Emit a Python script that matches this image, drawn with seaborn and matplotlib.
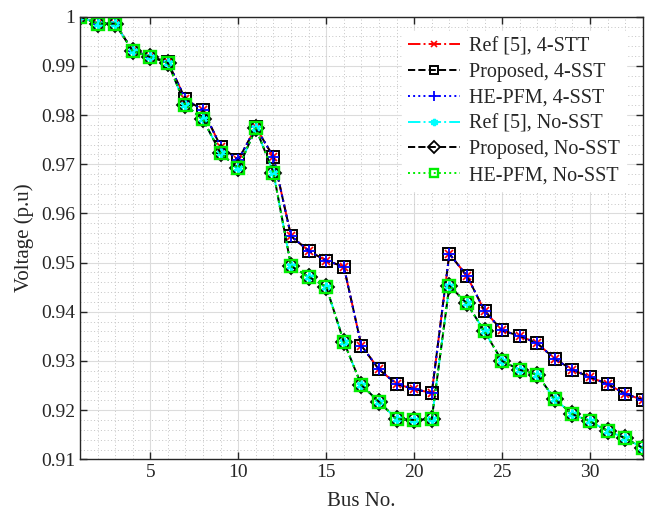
import numpy as np
import pandas as pd
import matplotlib
matplotlib.use("Agg")
import matplotlib.pyplot as plt
from matplotlib.ticker import MultipleLocator, FuncFormatter
import seaborn as sns

# bus numbers and voltage profiles
bus = list(range(1, 34))

v_4sst = [1.0000, 0.9986, 0.9986, 0.9931, 0.9919, 0.9908, 0.9832, 0.9810, 0.9736, 0.9709,
          0.9775, 0.9715, 0.9554, 0.9524, 0.9504, 0.9492, 0.9331, 0.9283, 0.9253, 0.9243,
          0.9235, 0.9518, 0.9473, 0.9402, 0.9362, 0.9351, 0.9336, 0.9304, 0.9282, 0.9267,
          0.9253, 0.9233, 0.9221]

v_nosst = [1.0000, 0.9986, 0.9986, 0.9930, 0.9918, 0.9906, 0.9820, 0.9791, 0.9722, 0.9692,
           0.9773, 0.9683, 0.9493, 0.9471, 0.9451, 0.9339, 0.9251, 0.9217, 0.9182, 0.9180,
           0.9182, 0.9453, 0.9417, 0.9360, 0.9300, 0.9282, 0.9272, 0.9222, 0.9192, 0.9177,
           0.9158, 0.9143, 0.9123]

labels = ["Ref [5], 4-STT", "Proposed, 4-SST", "HE-PFM, 4-SST",
          "Ref [5], No-SST", "Proposed, No-SST", "HE-PFM, No-SST"]

sns.set_style("ticks")
plt.rcParams["font.family"] = ["Liberation Serif", "DejaVu Serif"]

fig = plt.figure(figsize=(6.5, 5.22), dpi=100)
ax = fig.add_axes([0.123, 0.12, 0.866, 0.848])

green = "#00ee00"
styles = [
    dict(color="red", linestyle="-.", marker="x", markersize=5.5,
         markeredgewidth=1.2, markeredgecolor="red"),
    dict(color="black", linestyle="--", marker="s", markersize=8,
         markeredgewidth=1.4, markerfacecolor="none", markeredgecolor="black"),
    dict(color="blue", linestyle=":", marker="+", markersize=9,
         markeredgewidth=1.3, markeredgecolor="blue"),
    dict(color="cyan", linestyle="-.", marker=(6, 2, 0), markersize=7,
         markeredgewidth=1.8, markeredgecolor="cyan"),
    dict(color="black", linestyle="--", marker="D", markersize=8,
         markeredgewidth=1.3, markerfacecolor="none", markeredgecolor="black"),
    dict(color=green, linestyle=":", marker="s", markersize=8.5,
         markeredgewidth=1.7, markerfacecolor="none", markeredgecolor=green),
]
series = [v_4sst, v_4sst, v_4sst, v_nosst, v_nosst, v_nosst]

for vals, lab, st in zip(series, labels, styles):
    df = pd.DataFrame({"Bus": bus, "V": vals})
    sns.lineplot(data=df, x="Bus", y="V", ax=ax, label=lab, linewidth=1.4, **st)

ax.set_xlim(1, 33)
ax.set_ylim(0.91, 1.0)
ax.xaxis.set_major_locator(MultipleLocator(5))
ax.xaxis.set_minor_locator(MultipleLocator(1))
ax.yaxis.set_major_locator(MultipleLocator(0.01))
ax.yaxis.set_minor_locator(MultipleLocator(0.002))
ax.yaxis.set_major_formatter(FuncFormatter(lambda v, p: f"{v:.2f}".rstrip("0").rstrip(".")))

ax.grid(which="major", color="#dcdcdc", linestyle="-", linewidth=0.8)
ax.grid(which="minor", color="#c4c4c4", linestyle=(0, (1, 2.5)), linewidth=0.7)
ax.set_axisbelow(True)

ax.tick_params(which="major", direction="in", length=5, width=1, top=True, right=True,
               labelsize=14, colors="#262626")
ax.tick_params(which="minor", length=0)
for s in ax.spines.values():
    s.set_linewidth(1.0)
    s.set_color("#262626")

ax.set_xlabel("Bus No.", fontsize=15, labelpad=8)
ax.set_ylabel("Voltage (p.u)", fontsize=15, labelpad=5)

leg = ax.legend(loc="upper right", bbox_to_anchor=(0.970, 0.967), borderaxespad=0,
                fontsize=14.5, handlelength=2.56, labelspacing=0.33, borderpad=0.3,
                frameon=True, fancybox=False, framealpha=1, edgecolor="white",
                handletextpad=0.45)
for h in leg.legend_handles:
    h.set_markersize(h.get_markersize() * 0.75)

fig.savefig("out.png", dpi=100)
